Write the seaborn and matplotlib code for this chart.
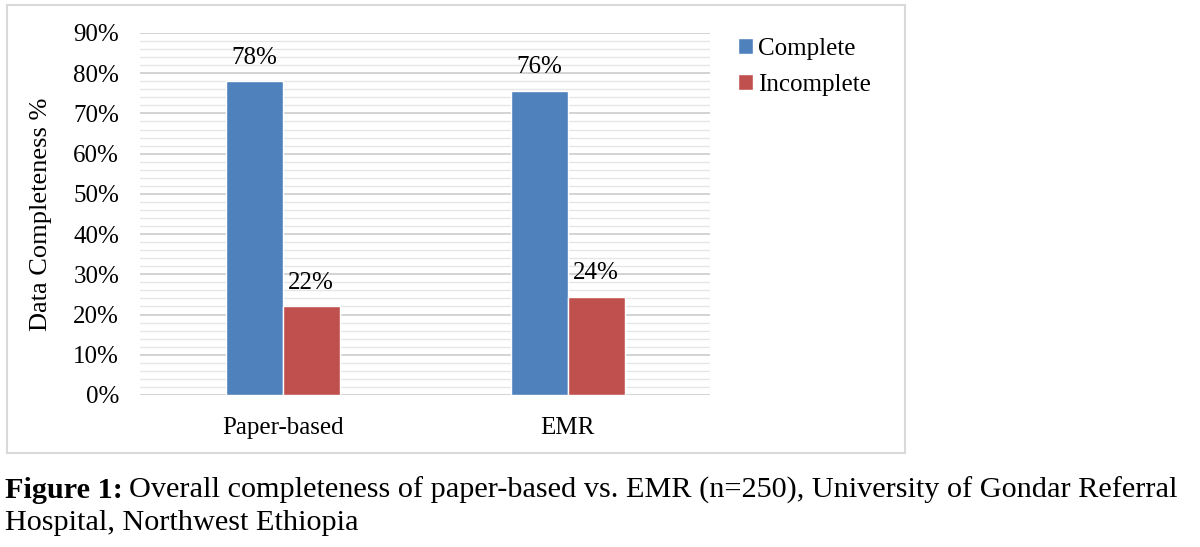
import pandas as pd
import numpy as np
import matplotlib.pyplot as plt
import seaborn as sns
from matplotlib.patches import Patch, Rectangle
from matplotlib.ticker import MultipleLocator, PercentFormatter

# data
record_type = ["Paper-based", "EMR"]
complete = [78.0, 75.6]
incomplete = [22.0, 24.4]

df = pd.DataFrame({
    "Type": record_type * 2,
    "Status": ["Complete"] * 2 + ["Incomplete"] * 2,
    "Pct": complete + incomplete,
})

sns.set_style("white")
plt.rcParams["font.family"] = ["Liberation Serif", "DejaVu Serif"]
plt.rcParams["text.color"] = "black"
plt.rcParams["axes.labelcolor"] = "black"

colors = {"Complete": "#4F81BD", "Incomplete": "#C0504D"}
fs = 18

fig = plt.figure(figsize=(12, 5.47), dpi=100)
ax = fig.add_axes([0.1167, 0.2779, 0.475, 0.6618])

sns.barplot(data=df, x="Type", y="Pct", hue="Status", palette=colors,
            width=0.4, saturation=1, legend=False, ax=ax, zorder=3)

ax.set_ylim(0, 90)
ax.set_xlim(-0.5, 1.5)
ax.yaxis.set_major_locator(MultipleLocator(10))
ax.yaxis.set_minor_locator(MultipleLocator(2))
ax.yaxis.set_major_formatter(PercentFormatter(decimals=0))
ax.grid(axis="y", which="major", color="#D0D0D0", linewidth=1.3, zorder=0)
ax.grid(axis="y", which="minor", color="#E6E6E6", linewidth=1.0, zorder=0)
ax.set_axisbelow(True)
for s in ax.spines.values():
    s.set_visible(False)
ax.tick_params(axis="both", which="both", length=0, labelsize=fs, colors="black")
ax.tick_params(axis="y", pad=15)
ax.tick_params(axis="x", pad=16)
ax.set_xlabel("")
ax.set_ylabel("Data Completeness %", fontsize=19, labelpad=15)

for cont in ax.containers:
    ax.bar_label(cont, fmt="%.0f%%", fontsize=fs, padding=9, color="black")

handles = [Patch(facecolor=colors[k], label=k) for k in colors]
fig.legend(handles=handles, loc="upper left", bbox_to_anchor=(0.596, 0.972),
           frameon=False, fontsize=fs, handlelength=0.6, handleheight=0.6,
           handletextpad=0.2, labelspacing=0.55)

# outer chart frame
fig.patches.append(Rectangle((7 / 1200, 1 - 453 / 547), 898 / 1200, 448 / 547,
                             transform=fig.transFigure, fill=False,
                             edgecolor="#D9D9D9", linewidth=1.5))

# caption with bold lead-in
cap_fs = 21.8
lead = fig.text(5 / 1200, 1 - 498 / 547, "Figure 1:", fontsize=cap_fs,
                fontweight="bold", ha="left", va="baseline")
r = fig.canvas.get_renderer()
bb = lead.get_window_extent(renderer=r)
fig.text(bb.x1 / 1200 + 6 / 1200, 1 - 498 / 547,
         "Overall completeness of paper-based vs. EMR (n=250), University of Gondar Referral",
         fontsize=cap_fs, ha="left", va="baseline")
fig.text(5 / 1200, 1 - 530 / 547, "Hospital, Northwest Ethiopia", fontsize=cap_fs,
         ha="left", va="baseline")

fig.savefig("out.png", dpi=100)
